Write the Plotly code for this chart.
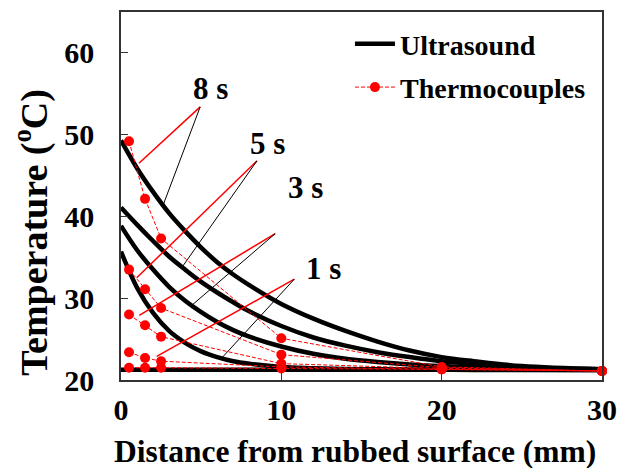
import plotly.graph_objects as go

# ---------------- data ----------------
us_x = [0, 1, 2, 3, 4, 5, 6, 7, 8, 10, 12, 14, 16, 18, 20, 22, 25, 30]
us_8s = [49.3, 45.9, 43.0, 40.4, 38.2, 36.2, 34.4, 32.9, 31.6, 29.3, 27.5, 26.0, 24.7, 23.6, 22.8, 22.3, 21.7, 21.3]
us_5s = [41.1, 39.0, 37.0, 35.1, 33.5, 32.0, 30.7, 29.5, 28.4, 26.6, 25.2, 24.2, 23.4, 22.8, 22.3, 22.0, 21.6, 21.3]
us_3s = [38.85, 35.9, 33.5, 31.4, 29.7, 28.3, 27.1, 26.1, 25.3, 24.1, 23.2, 22.6, 22.2, 21.9, 21.7, 21.55, 21.4, 21.25]
us_1s = [35.7, 31.3, 28.2, 26.0, 24.55, 23.5, 22.8, 22.3, 22.0, 21.6, 21.45, 21.35, 21.3, 21.28, 21.25, 21.23, 21.22, 21.2]
us_0s = [21.25] * len(us_x)

tc_x = [0.5, 1.5, 2.5, 10, 20, 30]
tc_8s = [49.2, 42.15, 37.3, 25.1, 21.6, 21.1]
tc_5s = [33.5, 31.1, 28.8, 23.1, 21.5, 21.1]
tc_3s = [28.0, 26.7, 25.3, 22.0, 21.4, 21.1]
tc_1s = [23.4, 22.7, 22.3, 21.6, 21.3, 21.1]
tc_0s = [21.5, 21.5, 21.5, 21.4, 21.3, 21.1]

# labels: text, label position, vertex, red-line end, black-line end
lab_text = ["8 s", "5 s", "3 s", "1 s"]
lab_x = [5.6, 9.15, 11.5, 12.65]
lab_y = [55.6, 48.9, 43.5, 33.6]
vert_x = [4.94, 8.48, 9.62, 10.81]
vert_y = [53.4, 46.8, 37.9, 32.33]
red_x = [1.12, 0.98, 1.14, 2.23]
red_y = [46.5, 32.5, 27.9, 22.9]
blk_x = [2.61, 3.79, 4.42, 6.29]
blk_y = [41.3, 33.75, 29.14, 22.7]

x_ticks = [0, 10, 20, 30]
y_ticks = [20, 30, 40, 50, 60]

x_title = "Distance from rubbed surface (mm)"
y_title = "Temperature (<sup>o</sup>C)"

FONT = "Liberation Serif, Times New Roman, serif"

fig = go.Figure()

# ultrasound curves
for i, ys in enumerate([us_0s, us_1s, us_3s, us_5s, us_8s]):
    fig.add_trace(go.Scatter(
        x=us_x, y=ys, mode="lines",
        line=dict(color="black", width=4.5, shape="spline", smoothing=1.0),
        name="Ultrasound", legendgroup="us", showlegend=(i == 4),
    ))

# thermocouples
for i, ys in enumerate([tc_0s, tc_1s, tc_3s, tc_5s, tc_8s]):
    fig.add_trace(go.Scatter(
        x=tc_x, y=ys, mode="lines+markers", cliponaxis=False,
        line=dict(color="red", width=1, dash="4px,2px"),
        marker=dict(color="red", size=10),
        name="Thermocouples", legendgroup="tc", showlegend=(i == 4),
    ))

# leader lines
for i in range(len(lab_text)):
    fig.add_trace(go.Scatter(
        x=[vert_x[i], red_x[i]], y=[vert_y[i], red_y[i]], mode="lines",
        line=dict(color="red", width=1.5), showlegend=False, hoverinfo="skip"))
    fig.add_trace(go.Scatter(
        x=[vert_x[i], blk_x[i]], y=[vert_y[i], blk_y[i]], mode="lines",
        line=dict(color="black", width=1), showlegend=False, hoverinfo="skip"))
    fig.add_annotation(x=lab_x[i], y=lab_y[i], text=lab_text[i], showarrow=False,
                       font=dict(family=FONT, size=31, color="black", weight="bold"),
                       xanchor="center", yanchor="middle")

# axis titles
fig.add_annotation(x=0.4865, y=-0.193, xref="paper", yref="paper", text=x_title,
                   showarrow=False, xanchor="center", yanchor="middle",
                   font=dict(family=FONT, size=31.5, color="black", weight="bold"))
fig.add_annotation(x=0, y=0.40, xref="paper", yref="paper", text=y_title,
                   showarrow=False, xanchor="center", yanchor="middle", xshift=-89,
                   textangle=-90,
                   font=dict(family=FONT, size=38, color="black", weight="bold"))

axis_common = dict(
    showgrid=False, zeroline=False, showline=True, mirror=True, automargin=False,
    linecolor="#333333", linewidth=1.5, ticks="inside", ticklen=7,
    tickcolor="#333333", tickwidth=1,
    tickfont=dict(family=FONT, size=30, color="black", weight="bold"),
)

fig.update_layout(
    width=629, height=468,
    margin=dict(l=113, r=35, t=4, b=96),
    paper_bgcolor="white", plot_bgcolor="white",
    xaxis=dict(range=[0, 30], tickvals=x_ticks, ticklabelstandoff=2, **axis_common),
    yaxis=dict(range=[20, 65], tickvals=y_ticks, ticklabelstandoff=19, **axis_common),
    legend=dict(x=0.476, y=0.981, xanchor="left", yanchor="top",
                bgcolor="rgba(0,0,0,0)", itemwidth=40, tracegroupgap=4,
                traceorder="grouped",
                font=dict(family=FONT, size=28, color="black", weight="bold")),
    showlegend=True,
)

fig.write_html("out.html")
